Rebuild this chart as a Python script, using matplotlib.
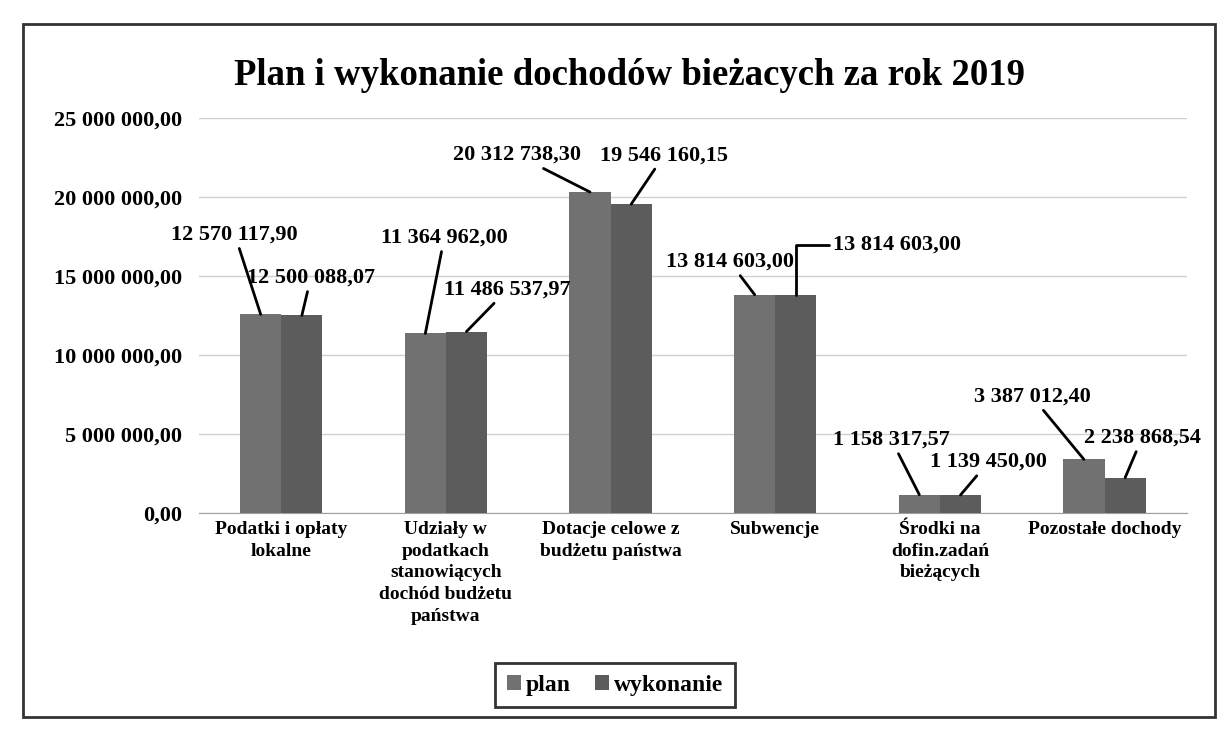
import numpy as np
import matplotlib
matplotlib.use("Agg")
import matplotlib.pyplot as plt
from matplotlib.ticker import FuncFormatter
from matplotlib.patches import Rectangle

# dane z wykresu
kategorie = ["Podatki i opłaty\nlokalne",
             "Udziały w\npodatkach\nstanowiących\ndochód budżetu\npaństwa",
             "Dotacje celowe z\nbudżetu państwa",
             "Subwencje",
             "Środki na\ndofin.zadań\nbieżących",
             "Pozostałe dochody"]
plan = [12570117.90, 11364962.00, 20312738.30, 13814603.00, 1158317.57, 3387012.40]
wykonanie = [12500088.07, 11486537.97, 19546160.15, 13814603.00, 1139450.00, 2238868.54]
tytul = "Plan i wykonanie dochodów bieżacych za rok 2019"

# przesunięcia etykiet (piksele) względem wierzchołka słupka
off_plan = [(-26, 80), (19, 96), (-73, 37), (-25, 33), (-28, 55), (-52, 63)]
off_wyk = [(9, 38), (41, 42), (33, 49), (101, 50), (28, 33), (17, 40)]
# linia odniesienia z załamaniem tylko przy Subwencjach (wykonanie)
conn_wyk = ["arc3", "arc3", "arc3", "angle,angleA=0,angleB=90,rad=0", "arc3", "arc3"]

plt.rcParams['font.family'] = ['Liberation Serif', 'DejaVu Serif']
plt.rcParams['font.weight'] = 'bold'


def fmt(v, pos=None):
    s = f"{v:,.2f}"
    return s.replace(",", " ").replace(".", ",")


fig = plt.figure(figsize=(12.25, 7.32), dpi=100)
ax = fig.add_axes([0.1624, 0.2992, 0.8065, 0.5396])

x = np.arange(len(kategorie))
w = 0.25
kol_plan = '#717171'
kol_wyk = '#5c5c5c'
ax.bar(x - w / 2, plan, w, color=kol_plan, label='plan', zorder=3)
ax.bar(x + w / 2, wykonanie, w, color=kol_wyk, label='wykonanie', zorder=3)

ax.set_xlim(-0.5, len(kategorie) - 0.5)
ax.set_ylim(0, 25000000)
ax.set_yticks(np.arange(0, 25000001, 5000000))
ax.yaxis.set_major_formatter(FuncFormatter(fmt))
ax.grid(axis='y', color='#d0d0d0', lw=1, zorder=0)
for s in ['top', 'right', 'left']:
    ax.spines[s].set_visible(False)
ax.spines['bottom'].set_color('#a0a0a0')
ax.tick_params(axis='y', length=0, pad=12, labelsize=16)
ax.tick_params(axis='x', length=0, pad=6, labelsize=14)
ax.set_xticks(x)
ax.set_xticklabels(kategorie, linespacing=1.35, va='top')
for t in ax.get_yticklabels() + ax.get_xticklabels():
    t.set_fontweight('bold')

for xi, v, off in zip(x - w / 2, plan, off_plan):
    ax.annotate(fmt(v), xy=(xi, v), xytext=off, textcoords='offset pixels',
                ha='center', va='center', fontsize=16, fontweight='bold',
                arrowprops=dict(arrowstyle='-', color='black', lw=2,
                                shrinkA=1, shrinkB=0), zorder=4)
for xi, v, off, cs in zip(x + w / 2, wykonanie, off_wyk, conn_wyk):
    ax.annotate(fmt(v), xy=(xi, v), xytext=off, textcoords='offset pixels',
                ha='center', va='center', fontsize=16, fontweight='bold',
                arrowprops=dict(arrowstyle='-', color='black', lw=2,
                                shrinkA=1, shrinkB=0, connectionstyle=cs),
                zorder=4)

fig.text(0.514, 0.897, tytul, ha='center', va='center', fontsize=26.5,
         fontweight='bold')

leg = fig.legend(loc='center', bbox_to_anchor=(0.502, 0.064), ncol=2,
                 fontsize=17, handlelength=0.6, handleheight=0.6,
                 handletextpad=0.2, columnspacing=1.0, fancybox=False,
                 frameon=True, borderpad=0.5)
leg.get_frame().set_edgecolor('black')
leg.get_frame().set_linewidth(2)
for t in leg.get_texts():
    t.set_fontweight('bold')

fig.patches.append(Rectangle((0.019, 0.02), 0.973, 0.947, transform=fig.transFigure,
                             fill=False, edgecolor='#333333', lw=2))

fig.savefig("out.png", dpi=100)
